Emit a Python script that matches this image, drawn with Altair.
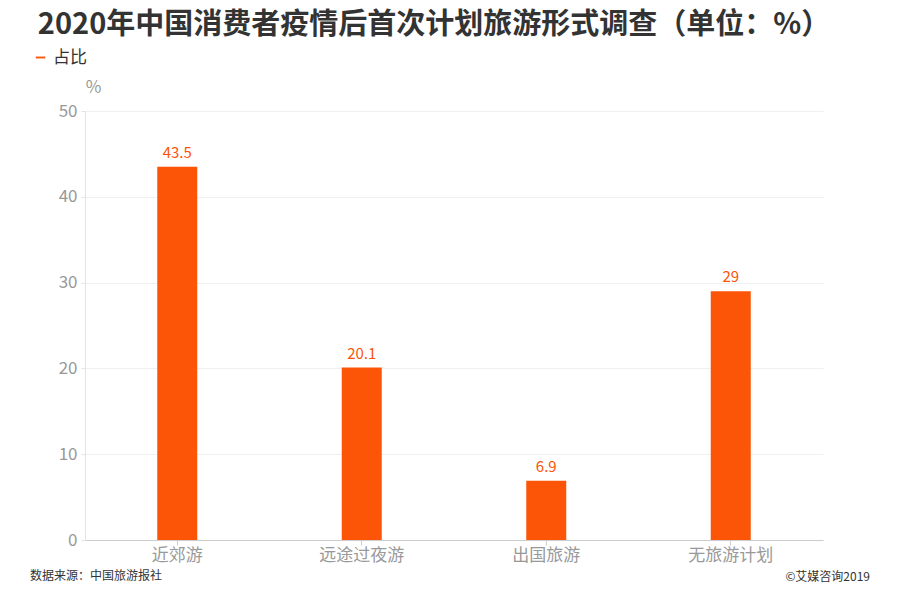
import altair as alt
import pandas as pd

categories = ["近郊游", "远途过夜游", "出国旅游", "无旅游计划"]
values = [43.5, 20.1, 6.9, 29]
series = ["占比"] * 4

title_text = "2020年中国消费者疫情后首次计划旅游形式调查（单位：%）"
source_text = "数据来源：中国旅游报社"
copyright_text = "©艾媒咨询2019"

FONT = "Noto Sans CJK SC"
ORANGE = "#FC5508"

df = pd.DataFrame({"类别": categories, "占比": values, "系列": series})

base = alt.Chart(df).encode(
    x=alt.X(
        "类别:N",
        sort=categories,
        title=None,
        axis=alt.Axis(
            labelAngle=0,
            labelFontSize=17,
            labelColor="#999999",
            labelFont=FONT,
            labelPadding=2,
            domainColor="#cccccc",
            tickColor="#cccccc",
            tickSize=5,
            grid=False,
        ),
    ),
    y=alt.Y(
        "占比:Q",
        scale=alt.Scale(domain=[0, 50]),
        title="%",
        axis=alt.Axis(
            values=[0, 10, 20, 30, 40, 50],
            labelFontSize=17,
            labelColor="#999999",
            labelFont=FONT,
            labelPadding=4,
            domainColor="#e3e3e3",
            tickColor="#e3e3e3",
            tickSize=4,
            gridColor="#f0f0f0",
            titleAngle=0,
            titleX=8,
            titleY=-24,
            titleBaseline="middle",
            titleAlign="center",
            titleFontSize=17,
            titleFontWeight="normal",
            titleColor="#999999",
            titleFont=FONT,
        ),
    ),
)

bars = base.mark_bar(size=40).encode(
    color=alt.Color(
        "系列:N",
        scale=alt.Scale(range=[ORANGE]),
        legend=alt.Legend(
            title=None,
            orient="none",
            legendX=-53,
            legendY=-62,
            symbolType="M-1,-0.2H1V0.2H-1Z",
            symbolSize=90,
            labelFontSize=17,
            labelColor="#333333",
            labelFont=FONT,
            labelOffset=4,
        ),
    )
)

labels = base.mark_text(
    dy=-14, fontSize=15, color=ORANGE, font=FONT
).encode(text=alt.Text("占比:Q"))

foot_df = pd.DataFrame({"t": [source_text]})
copy_df = pd.DataFrame({"t": [copyright_text]})

source = alt.Chart(foot_df).mark_text(
    align="left", baseline="middle", fontSize=12, color="#333333", font=FONT
).encode(text="t:N", x=alt.value(-55), y=alt.value(465))

copyright_ = alt.Chart(copy_df).mark_text(
    align="right", baseline="middle", fontSize=12, color="#333333", font=FONT
).encode(text="t:N", x=alt.value(785), y=alt.value(466))

chart = (
    alt.layer(bars, labels, source, copyright_)
    .properties(
        width=738,
        height=429,
        background="white",
        title=alt.TitleParams(
            text=title_text,
            anchor="middle",
            dx=-20,
            offset=9,
            fontSize=29,
            fontWeight="bold",
            color="#333333",
            font=FONT,
        ),
        autosize=alt.AutoSizeParams(type="none"),
        padding={"left": 85, "top": 111, "right": 77, "bottom": 60},
    )
    .configure_view(strokeWidth=0, stroke=None)
)

chart.save("out.html", embed_options={"renderer": "svg", "actions": False})
